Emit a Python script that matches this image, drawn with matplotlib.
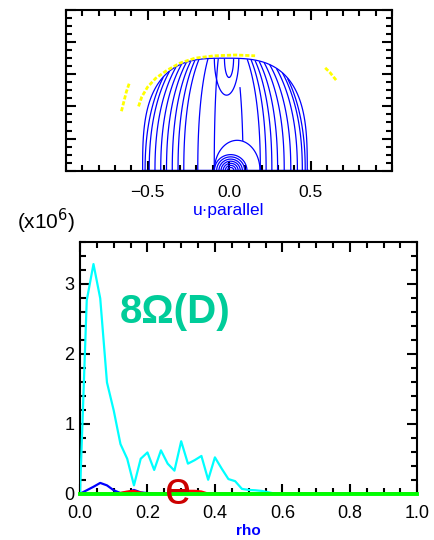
import numpy as np
import matplotlib
matplotlib.use("Agg")
import matplotlib.pyplot as plt
from matplotlib.ticker import MultipleLocator

# ---- lower panel: profiles vs rho (units of 1e6) ----
rho = np.linspace(0.0, 1.0, 51)
cyan_vals = [0.0, 2.76, 3.28, 2.79, 1.59, 1.19, 0.71, 0.50, 0.12, 0.50,
             0.59, 0.34, 0.62, 0.43, 0.33, 0.75, 0.43, 0.48, 0.54, 0.20,
             0.52, 0.36, 0.21, 0.18, 0.07, 0.055, 0.05, 0.04, 0.02, 0.0] + [0.0] * 21
blue_vals = [0.0, 0.05, 0.10, 0.155, 0.12, 0.05, 0.01, 0.02, 0.055, 0.02,
             0.01] + [0.0] * 40
red_vals = [0.0, 0.0, 0.0, 0.0, 0.0, 0.0, 0.01, 0.03, 0.04, 0.015,
            0.0, 0.0, 0.0, 0.0, 0.015, 0.03, 0.04, 0.04, 0.03, 0.0] + [0.0] * 31
green_vals = [0.0] * 51

# ---- upper panel: contour shape parameters (u_parallel, u_perp) ----
dome_xc, dome_a, dome_h, dome_p = -0.025, 0.505, 0.70, 3.0
line_h, line_p = 0.85, 2.2
# contour positions as fraction of the dome half-width at u_perp = 0
f_levels = [-0.97, -0.92, -0.85, -0.78, -0.71, -0.64, -0.57, -0.50, -0.33, -0.13,
            0.43, 0.50, 0.57, 0.64, 0.72, 0.80, 0.88, 0.94, 0.975]
ring_x0 = 0.01
ring_levels = [0.02, 0.033, 0.046, 0.059, 0.072, 0.086, 0.10]
arch_x0, arch_sx, arch_sy, arch_level = 0.05, 1.0, 1.35, 0.14
u_x0, u_sx, u_sy = -0.015, 0.075, 0.23
cup_x0, cup_sx, cup_sy = 0.0, 0.028, 0.12
chan_levels, chan_ymax = [0.22], 0.52

yellow_edge_x = [-0.555, -0.535, -0.50, -0.45, -0.38, -0.30, -0.21, -0.09, 0.04, 0.16]
yellow_edge_y = [0.40, 0.46, 0.52, 0.575, 0.625, 0.67, 0.70, 0.715, 0.72, 0.715]
yellow_left_x = [-0.66, -0.645, -0.63, -0.61]
yellow_left_y = [0.37, 0.43, 0.49, 0.55]
yellow_right_x = [0.59, 0.62, 0.66]
yellow_right_y = [0.64, 0.61, 0.56]

plt.rcParams['font.family'] = ['Liberation Sans', 'DejaVu Sans']

fig = plt.figure(figsize=(4.34, 5.40), dpi=100)


def style_axes(ax, size):
    for sp in ax.spines.values():
        sp.set_linewidth(1.5)
    ax.tick_params(which='both', direction='in', top=True, right=True,
                   width=1.5, labelsize=size)
    ax.tick_params(which='major', length=7)
    ax.tick_params(which='minor', length=4)


# upper panel
ax1 = fig.add_axes([0.1521, 0.6839, 0.7512, 0.2976])
ux = np.linspace(-1.0, 1.0, 601)
up = np.linspace(0.0, 1.0, 301)
X, Y = np.meshgrid(ux, up)
S = (np.abs(X - dome_xc) / dome_a) ** dome_p + (Y / dome_h) ** dome_p
W2 = dome_a * np.clip(1 - (Y / line_h) ** line_p, 1e-6, None) ** (1 / line_p)
F = (X - dome_xc) / W2
F[S > 1] = np.nan
kw = dict(colors='#0000ff', linewidths=0.9, linestyles='solid')
ax1.contour(X, Y, F, levels=f_levels, **kw)
ax1.contour(X, Y, S, levels=[1.0], **kw)
ax1.contour(X, Y, np.hypot(X - ring_x0, Y), levels=ring_levels, **kw)
A = np.hypot((X - arch_x0) / arch_sx, Y / arch_sy)
ax1.contour(X, Y, A, levels=[arch_level], **kw)
U = np.hypot((X - u_x0) / u_sx, (Y - dome_h) / u_sy)
U[S > 1] = np.nan
ax1.contour(X, Y, U, levels=[1.0], **kw)
C = np.hypot((X - cup_x0) / cup_sx, (Y - dome_h) / cup_sy)
C[S > 1] = np.nan
ax1.contour(X, Y, C, levels=[1.0], **kw)
M = F.copy()
M[(A < arch_level) | (Y > chan_ymax)] = np.nan
ax1.contour(X, Y, M, levels=chan_levels, **kw)
ax1.plot([dome_xc - dome_a, dome_xc + dome_a], [0, 0], color='#0000ff', lw=2.5)
ykw = dict(color='#ffff00', lw=2.0, ls=(0, (1.5, 0.7)))
ax1.plot(yellow_edge_x, yellow_edge_y, **ykw)
ax1.plot(yellow_left_x, yellow_left_y, **ykw)
ax1.plot(yellow_right_x, yellow_right_y, **ykw)
ax1.set_xlim(-1, 1)
ax1.set_ylim(0, 1)
ax1.xaxis.set_major_locator(MultipleLocator(0.5))
ax1.xaxis.set_minor_locator(MultipleLocator(0.1))
ax1.yaxis.set_major_locator(MultipleLocator(0.2))
ax1.yaxis.set_minor_locator(MultipleLocator(0.05))
style_axes(ax1, 12.5)
ax1.tick_params(axis='x', pad=10)
ax1.set_yticklabels([])
ax1.set_xticks([-0.5, 0.0, 0.5])
ax1.set_xticklabels(['\u22120.5', '0.0', '0.5'])
fig.text(229 / 434, 1 - 211 / 540, 'u\u00b7parallel', color='#0000ff',
         fontsize=12.5, ha='center', va='center')
fig.text(46 / 434, 1 - 221 / 540, r'(x10$^6$)', fontsize=15,
         ha='center', va='center')

# lower panel
ax2 = fig.add_axes([0.1843, 0.0856, 0.7772, 0.4669])
ax2.plot(rho, cyan_vals, color='#00ffff', lw=1.6, zorder=3)
ax2.plot(rho, blue_vals, color='#0000ff', lw=1.6, zorder=3)
ax2.plot(rho, red_vals, color='#ff0000', lw=1.8, zorder=3)
ax2.plot(rho, green_vals, color='#00ff00', lw=2.8, zorder=4, clip_on=False)
ax2.set_xlim(0, 1)
ax2.set_ylim(0, 3.6)
ax2.xaxis.set_major_locator(MultipleLocator(0.2))
ax2.xaxis.set_minor_locator(MultipleLocator(0.05))
ax2.yaxis.set_major_locator(MultipleLocator(1))
ax2.yaxis.set_minor_locator(MultipleLocator(0.2))
style_axes(ax2, 13)
ax2.tick_params(axis='x', pad=8)
ax2.tick_params(axis='y', pad=4)
ax2.xaxis.set_major_formatter(plt.FuncFormatter(lambda v, p: f'{v:.1f}'))
ax2.yaxis.set_major_formatter(plt.FuncFormatter(lambda v, p: f'{v:.0f}'))
ax2.text(0.29, 0.02, 'e', color='#cc0000', fontsize=34,
         ha='center', va='center', zorder=6)
ax2.text(0.282, 2.6, '8\u03a9(D)', color='#00cc99', fontsize=29,
         fontweight='bold', ha='center', va='center')
fig.text(248 / 434, 1 - 531 / 540, 'rho', color='#0000ff', fontsize=11,
         fontweight='bold', ha='center', va='center')

fig.savefig('out.png', dpi=100)
